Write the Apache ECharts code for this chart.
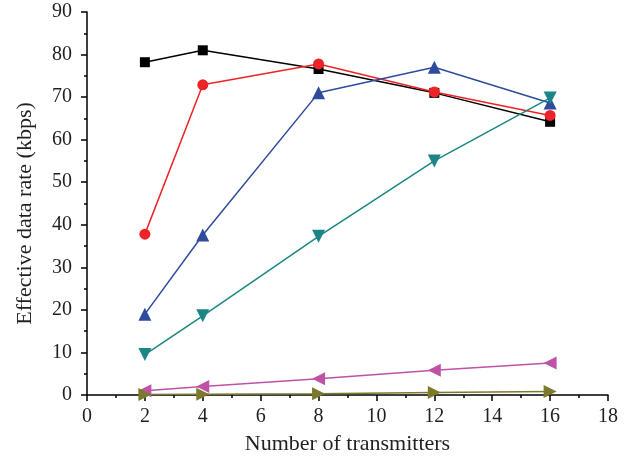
<!DOCTYPE html>
<html><head><meta charset="utf-8">
<script src="https://cdn.jsdelivr.net/npm/echarts@6/dist/echarts.min.js"></script>
<style>html,body{margin:0;padding:0;background:#fff}#c{width:633px;height:461px}</style>
</head><body><div id="c"></div>
<script>
const xValues = [2, 4, 8, 12, 16];
const blackSquares = [78.2, 81, 76.6, 71, 64.2];
const redCircles = [37.8, 72.9, 77.8, 71.2, 65.7];
const blueTriangles = [19, 37.6, 71, 77, 68.6];
const tealDown = [9.5, 18.6, 37.3, 55, 69.8];
const magentaLeft = [1, 2, 3.8, 5.8, 7.5];
const oliveRight = [0.1, 0.15, 0.3, 0.6, 0.8];

const font = '"Liberation Serif", "DejaVu Serif", serif';
const pairs = arr => xValues.map((x, i) => [x, arr[i]]);
function s(name, data, color, symbol, size, rot) {
  return {
    name, type: 'line', data: pairs(data), symbol, symbolSize: size,
    symbolRotate: rot || 0,
    lineStyle: { color, width: 1.5 }, itemStyle: { color },
    animation: false
  };
}
const chart = echarts.init(document.getElementById('c'));
chart.setOption({
  backgroundColor: '#fff',
  grid: { left: 87, right: 25, top: 12, bottom: 66 },
  xAxis: {
    type: 'value', min: 0, max: 18, interval: 2,
    name: 'Number of transmitters', nameLocation: 'middle', nameGap: 38,
    nameTextStyle: { fontFamily: font, fontSize: 22, color: '#231f20' },
    axisLine: { show: true, lineStyle: { color: '#000', width: 1.5 } },
    axisTick: { show: true, inside: false, length: 6, lineStyle: { color: '#000', width: 1.5 } },
    minorTick: { show: true, splitNumber: 2, length: 3, lineStyle: { color: '#000', width: 1.5 } },
    axisLabel: { fontFamily: font, fontSize: 20, color: '#231f20', margin: 12 },
    splitLine: { show: false }
  },
  yAxis: {
    type: 'value', min: 0, max: 90, interval: 10,
    name: 'Effective data rate (kbps)', nameLocation: 'middle', nameGap: 51,
    nameTextStyle: { fontFamily: font, fontSize: 22, color: '#231f20', padding: [0, 20, 0, 0] },
    axisLine: { show: true, lineStyle: { color: '#000', width: 1.5 } },
    axisTick: { show: true, inside: false, length: 6, lineStyle: { color: '#000', width: 1.5 } },
    minorTick: { show: true, splitNumber: 2, length: 3, lineStyle: { color: '#000', width: 1.5 } },
    axisLabel: { fontFamily: font, fontSize: 20, color: '#231f20', margin: 15 },
    splitLine: { show: false }
  },
  series: [
    s('A', blackSquares, '#000000', 'rect', 10),
    s('B', redCircles, '#ee2328', 'circle', 11),
    s('C', blueTriangles, '#2e4b9e', 'triangle', 13),
    s('D', tealDown, '#1b8683', 'triangle', 13, 180),
    s('E', magentaLeft, '#c052a6', 'triangle', 13, 90),
    s('F', oliveRight, '#7b7a2c', 'triangle', 13, -90)
  ]
});
</script></body></html>
